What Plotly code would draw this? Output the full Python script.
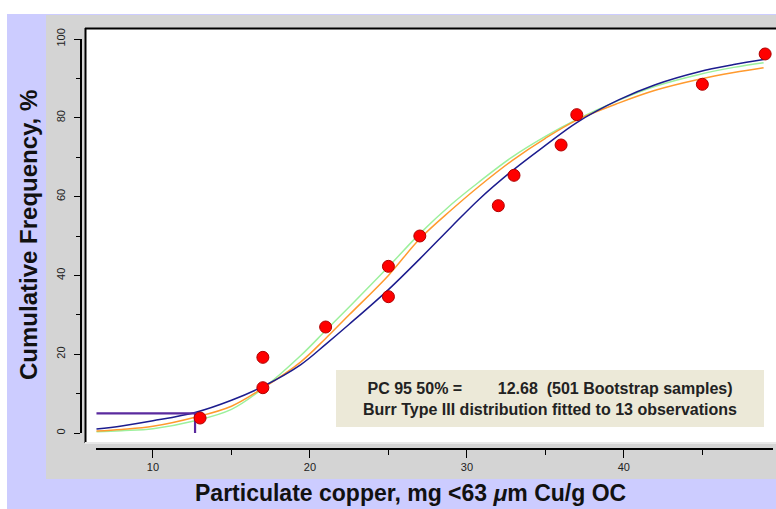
import plotly.graph_objects as go

# ---------------- data ----------------
obs_x = [13, 17, 17, 21, 25, 25, 27, 32, 33, 36, 37, 45, 49]
obs_y = [3.8, 11.5, 19.2, 26.9, 34.6, 42.3, 50.0, 57.7, 65.4, 73.1, 80.8, 88.5, 96.2]

curve_x = [6.4, 8, 10, 12.68, 15, 17, 19.4, 21, 22.5, 25, 27, 29, 30.8, 32.9, 35, 37, 39.7, 42, 44.8, 47, 48.9]
blue_y = [1.0, 1.8, 3.1, 5.2, 8.3, 11.8, 17.3, 22.5, 27.6, 36.4, 44.2, 52.3, 59.4, 66.6, 73.0, 78.8, 84.6, 88.4, 91.7, 93.5, 94.8]
orange_y = [0.5, 0.9, 1.7, 4.0, 6.8, 11.4, 18.0, 24.0, 30.0, 40.0, 49.3, 56.6, 62.7, 69.2, 74.8, 79.4, 83.8, 87.0, 89.8, 91.5, 92.7]
green_y = [0.3, 0.6, 1.1, 3.1, 6.0, 11.3, 19.6, 26.0, 32.0, 42.2, 50.6, 58.0, 63.8, 70.1, 75.3, 79.6, 84.5, 88.0, 91.0, 92.8, 94.0]

pc95_value = 12.68
pc95_level = 5

x_ticks = [10, 20, 30, 40]
y_ticks = [0, 20, 40, 60, 80, 100]
x_range = [6.37, 49.5]
y_range = [0, 100]

line1 = "PC 95 50% =\u00a0\u00a0\u00a0\u00a0\u00a0\u00a0\u00a0 12.68\u00a0 (501 Bootstrap samples)"
line2 = "Burr Type III distribution fitted to 13 observations"
x_title = "Particulate copper, mg <63 <i>\u03bc</i>m Cu/g OC"
y_title = "Cumulative Frequency, %"

# ---------------- layout geometry (pixels) ----------------
W, H = 776, 509
ML, MR, MT, MB = 81, 3, 39, 60
PW = W - ML - MR
PH = H - MT - MB


def px(x):
    return (x - ML) / PW


def py(y):
    return (H - MB - y) / PH


FONT = "Liberation Sans, Arial, sans-serif"

fig = go.Figure()

fig.add_trace(go.Scatter(x=curve_x, y=green_y, mode="lines", line=dict(color="#9CF09C", width=1.5, shape="spline"), hoverinfo="skip"))
fig.add_trace(go.Scatter(x=curve_x, y=orange_y, mode="lines", line=dict(color="#FF9A2E", width=1.5, shape="spline"), hoverinfo="skip"))
fig.add_trace(go.Scatter(x=curve_x, y=blue_y, mode="lines", line=dict(color="#1C1C8E", width=1.5, shape="spline"), hoverinfo="skip"))

fig.add_trace(go.Scatter(
    x=[curve_x[0], pc95_value, pc95_value], y=[pc95_level, pc95_level, 0],
    mode="lines", line=dict(color="#5A2A9E", width=2.2), hoverinfo="skip"))

fig.add_trace(go.Scatter(
    x=obs_x, y=obs_y, mode="markers",
    marker=dict(size=12, color="#FF0000", line=dict(color="#B00000", width=1)),
    hoverinfo="skip"))

shapes = [
    dict(type="rect", xref="paper", yref="paper", x0=px(7), x1=px(W + 2), y0=py(H + 2), y1=py(14),
         fillcolor="#CCCCFF", line=dict(width=0), layer="below"),
    dict(type="rect", xref="paper", yref="paper", x0=px(46), x1=px(W + 2), y0=py(479), y1=py(15),
         fillcolor="#D4D4D4", line=dict(width=0), layer="below"),
    dict(type="rect", xref="paper", yref="paper", x0=px(85), x1=px(W + 2), y0=py(443), y1=py(28),
         fillcolor="#FFFFFF", line=dict(width=0), layer="below"),
    dict(type="line", xref="paper", yref="paper", x0=px(85), x1=px(W + 2), y0=py(28.5), y1=py(28.5),
         line=dict(color="#000000", width=2), layer="below"),
    dict(type="line", xref="paper", yref="paper", x0=px(85.5), x1=px(85.5), y0=py(443), y1=py(28),
         line=dict(color="#000000", width=2), layer="below"),
    dict(type="line", xref="paper", yref="paper", x0=px(85), x1=px(W + 2), y0=py(443), y1=py(443),
         line=dict(color="#E8E8E8", width=2), layer="below"),
    dict(type="rect", xref="paper", yref="paper", x0=px(336), x1=px(764), y0=py(427), y1=py(370),
         fillcolor="#ECE9D8", line=dict(width=0), layer="below"),
]

annotations = [
    dict(xref="paper", yref="paper", x=px(550), y=py(398.5), xanchor="center", yanchor="middle",
         text="<b>" + line1 + "</b><br><b>" + line2 + "</b>", showarrow=False, align="center",
         font=dict(family=FONT, size=16, color="#222222")),
    dict(xref="paper", yref="paper", x=px(410), y=py(493), xanchor="center", yanchor="middle",
         text="<b>" + x_title + "</b>", showarrow=False, font=dict(family=FONT, size=23, color="#111111")),
    dict(xref="paper", yref="paper", x=px(28), y=py(235), xanchor="center", yanchor="middle",
         text="<b>" + y_title + "</b>", textangle=-90, showarrow=False,
         font=dict(family=FONT, size=24, color="#111111")),
]

fig.update_layout(
    width=W, height=H,
    margin=dict(l=ML, r=MR, t=MT, b=MB, pad=0),
    paper_bgcolor="#FFFFFF",
    plot_bgcolor="rgba(0,0,0,0)",
    showlegend=False,
    shapes=shapes,
    annotations=annotations,
    xaxis=dict(
        domain=[px(96), 1], range=x_range, anchor="free", position=0,
        showgrid=False, zeroline=False, showline=True, linecolor="#000000", linewidth=1.5,
        ticks="outside", ticklen=8, tickwidth=1.2, tickcolor="#000000",
        tickvals=x_ticks, ticktext=[str(v) for v in x_ticks],
        minor=dict(ticks="outside", ticklen=5, dtick=5, tick0=0, tickcolor="#000000", tickwidth=1.2, showgrid=False),
        tickfont=dict(family=FONT, size=11, color="#222222"),
    ),
    yaxis=dict(
        domain=[py(433), 1], range=y_range, anchor="free", position=0,
        showgrid=False, zeroline=False, showline=True, linecolor="#000000", linewidth=1.5,
        ticks="outside", ticklen=6, tickwidth=1.2, tickcolor="#000000",
        tickvals=y_ticks, ticktext=[str(v) for v in y_ticks], tickangle=-90, ticklabelstandoff=5,
        minor=dict(ticks="outside", ticklen=4, dtick=10, tick0=0, tickcolor="#000000", tickwidth=1.2, showgrid=False),
        tickfont=dict(family=FONT, size=11, color="#222222"),
    ),
)

fig.write_html(
    "out.html",
    config={"displayModeBar": False},
    post_script="document.body.style.margin='0';document.body.style.overflow='hidden';",
)
